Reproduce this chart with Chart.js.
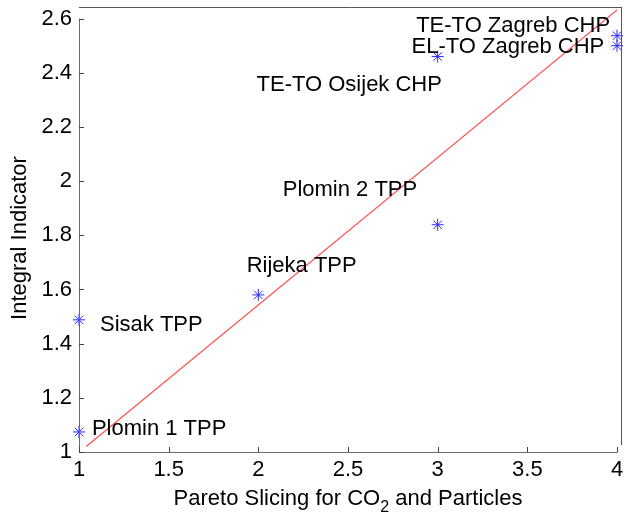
<!DOCTYPE html>
<html lang="en">

<head>
  <meta charset="UTF-8">
  <title>Integral Indicator vs Pareto Slicing</title>
  <style>
    html, body { margin: 0; padding: 0; background: #fff; }
    #wrap { width: 624px; height: 514px; }
  </style>
</head>

<body>
  <div id="wrap">
    <canvas id="myChart" width="624" height="514"></canvas>
  </div>
</body>

</html>
<script src="https://cdn.jsdelivr.net/npm/chart.js"></script>

<script>
  // power plants: pareto slicing rank (x) vs integral indicator (y)
  const plantNames = ['Plomin 1 TPP', 'Sisak TPP', 'Rijeka TPP', 'Plomin 2 TPP', 'TE-TO Osijek CHP', 'TE-TO Zagreb CHP', 'EL-TO Zagreb CHP'];
  const paretoValues = [1, 1, 2, 3, 3, 4, 4];
  const indicatorValues = [1.074, 1.488, 1.580, 1.839, 2.460, 2.537, 2.500];

  // where the name text is anchored (data units, left / middle)
  const labelX = [1.072, 1.117, 1.935, 2.136, 1.99, 2.88, 2.854];
  const labelY = [1.085, 1.469, 1.687, 1.968, 2.356, 2.574, 2.497];

  // red reference line
  const fitX = [1.04, 4.02];
  const fitY = [1.02, 2.643];

  const xTicks = [1, 1.5, 2, 2.5, 3, 3.5, 4];
  const yTicks = [1, 1.2, 1.4, 1.6, 1.8, 2, 2.2, 2.4, 2.6];

  const FONT = '"Liberation Sans", Arial, sans-serif';

  const matlabAxes = {
    id: 'matlabAxes',
    afterDraw(chart) {
      const c = chart.ctx;
      const a = chart.chartArea;
      const xs = chart.scales.x;
      const ys = chart.scales.y;
      c.save();

      // box lines
      c.strokeStyle = '#6b6b6b';
      c.lineWidth = 1;
      c.beginPath();
      c.moveTo(a.left + 0.5, ys.getPixelForValue(2.6));
      c.lineTo(a.left + 0.5, a.bottom + 0.5);
      c.lineTo(a.right + 0.5, a.bottom + 0.5);
      c.stroke();
      c.strokeStyle = '#555';
      c.beginPath();
      c.moveTo(a.left, a.top + 0.5);
      c.lineTo(a.right + 5, a.top + 0.5);
      c.moveTo(a.right + 4.5, a.top);
      c.lineTo(a.right + 4.5, a.bottom - 7);
      c.stroke();

      // inward ticks
      c.strokeStyle = '#444';
      c.beginPath();
      xTicks.forEach(v => {
        const px = Math.round(xs.getPixelForValue(v)) + 0.5;
        c.moveTo(px, a.bottom);
        c.lineTo(px, a.bottom - 5);
      });
      yTicks.forEach(v => {
        const py = Math.round(ys.getPixelForValue(v)) + 0.5;
        c.moveTo(a.left, py);
        c.lineTo(a.left + 5, py);
      });
      c.stroke();

      // plant names
      c.fillStyle = '#000';
      c.font = '22px ' + FONT;
      c.textAlign = 'left';
      c.textBaseline = 'middle';
      plantNames.forEach((name, i) => {
        c.fillText(name, xs.getPixelForValue(labelX[i]), ys.getPixelForValue(labelY[i]));
      });

      // x axis title with subscript
      const parts = ['Pareto Slicing for CO', '2', ' and Particles'];
      c.font = '22px ' + FONT;
      const w0 = c.measureText(parts[0]).width;
      const w2 = c.measureText(parts[2]).width;
      c.font = '16px ' + FONT;
      const w1 = c.measureText(parts[1]).width;
      let x = (a.left + a.right) / 2 - (w0 + w1 + w2) / 2;
      const base = 505;
      c.textBaseline = 'alphabetic';
      c.font = '22px ' + FONT;
      c.fillText(parts[0], x, base);
      x += w0;
      c.font = '16px ' + FONT;
      c.fillText(parts[1], x, base + 7);
      x += w1;
      c.font = '22px ' + FONT;
      c.fillText(parts[2], x, base);

      // y axis title
      c.translate(20, 238);
      c.rotate(-Math.PI / 2);
      c.textAlign = 'center';
      c.textBaseline = 'middle';
      c.fillText('Integral Indicator', 0, 0);
      c.restore();
    }
  };

  function noPad(s) {
    s.paddingTop = 0;
    s.paddingBottom = 0;
    s.paddingLeft = 0;
    s.paddingRight = 0;
  }

  const ctx = document.getElementById('myChart');

  const myChart = new Chart(ctx, {
    type: 'scatter',
    data: {
      datasets: [
        {
          label: 'plants',
          data: paretoValues.map((v, i) => ({ x: v, y: indicatorValues[i] })),
          pointStyle: 'star',
          pointRadius: 6,
          pointBorderWidth: 1,
          borderColor: 'rgb(40,40,255)',
          backgroundColor: 'rgb(40,40,255)',
          showLine: false,
          clip: false
        },
        {
          label: 'fit',
          data: fitX.map((v, i) => ({ x: v, y: fitY[i] })),
          showLine: true,
          pointRadius: 0,
          borderColor: 'rgb(255,80,80)',
          borderWidth: 1.2,
          clip: 0
        }
      ]
    },
    options: {
      responsive: false,
      animation: false,
      layout: { padding: { top: 7, right: 6, left: 0, bottom: 0 } },
      plugins: { legend: { display: false }, tooltip: { enabled: false } },
      scales: {
        x: {
          type: 'linear',
          min: 1,
          max: 4,
          afterBuildTicks: s => { s.ticks = xTicks.map(v => ({ value: v })); },
          afterFit: s => { s.height = 62; noPad(s); },
          grid: { display: false, drawTicks: false },
          border: { display: false },
          ticks: {
            color: '#000',
            padding: 5,
            maxRotation: 0,
            font: { family: FONT, size: 22 },
            callback: v => String(v)
          }
        },
        y: {
          type: 'linear',
          min: 1,
          max: 2.643,
          afterBuildTicks: s => { s.ticks = yTicks.map(v => ({ value: v })); },
          afterFit: s => { s.width = 79; noPad(s); },
          grid: { display: false, drawTicks: false },
          border: { display: false },
          ticks: {
            color: '#000',
            padding: 7,
            font: { family: FONT, size: 22 },
            callback: v => String(v)
          }
        }
      }
    },
    plugins: [matlabAxes]
  });
</script>
